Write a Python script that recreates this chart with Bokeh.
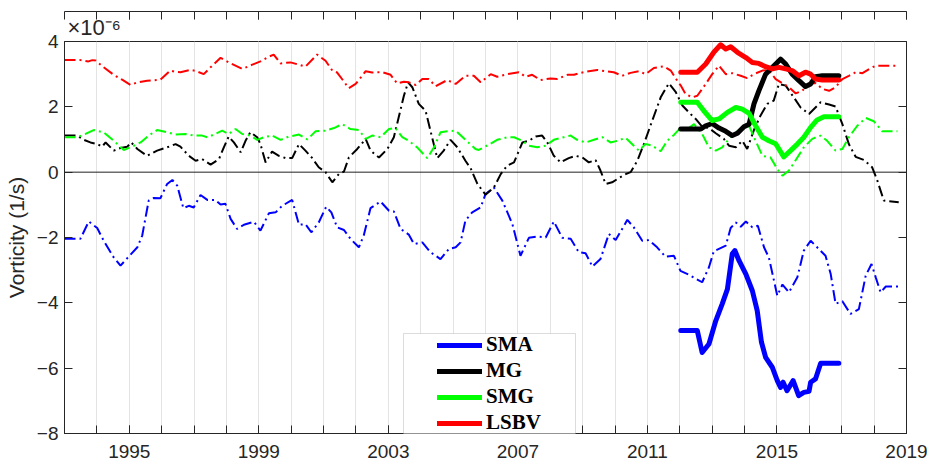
from bokeh.plotting import figure
from bokeh.models import (FixedTicker, LinearAxis, Range1d, Legend, LegendItem,
                          Title, BoxAnnotation, Span, CustomJSTickFormatter)
from bokeh.embed import file_html
from bokeh.resources import INLINE

# Relative vorticity (units of 1e-6 1/s) against decimal year.
# Long-term smoothed series (dash-dot) for each region.
sma_t = [1993.00, 1993.49, 1993.75, 1994.01, 1994.21, 1994.52, 1994.73, 1994.94, 1995.25, 1995.40,
         1995.60, 1995.76, 1995.96, 1996.17, 1996.33, 1996.48, 1996.67, 1996.84, 1996.99, 1997.20,
         1997.41, 1997.66, 1997.82, 1997.97, 1998.13, 1998.33, 1998.54, 1998.85, 1999.05, 1999.31,
         1999.52, 1999.72, 2000.03, 2000.24, 2000.44, 2000.62, 2000.85, 2001.08, 2001.24, 2001.42,
         2001.63, 2001.83, 2002.09, 2002.24, 2002.45, 2002.76, 2003.02, 2003.17, 2003.38, 2003.63,
         2003.79, 2004.05, 2004.30, 2004.61, 2004.87, 2005.08, 2005.23, 2005.38, 2005.59, 2005.85,
         2006.00, 2006.26, 2006.52, 2006.83, 2007.08, 2007.34, 2007.60, 2007.86, 2008.11, 2008.37,
         2008.63, 2008.88, 2009.09, 2009.30, 2009.55, 2009.81, 2010.02, 2010.38, 2010.58, 2010.84,
         2011.05, 2011.30, 2011.56, 2011.82, 2012.02, 2012.28, 2012.69, 2012.90, 2013.05, 2013.42,
         2013.57, 2013.73, 2013.88, 2014.04, 2014.24, 2014.41, 2014.60, 2014.75, 2015.01, 2015.17,
         2015.37, 2015.63, 2015.83, 2016.04, 2016.24, 2016.50, 2016.66, 2016.81, 2017.02, 2017.27,
         2017.53, 2017.74, 2017.92, 2018.05, 2018.20, 2018.36, 2018.77]
sma_v = [-2.04, -2.04, -1.51, -1.71, -2.10, -2.61, -2.86, -2.63, -2.30, -1.94,
         -0.87, -0.79, -0.80, -0.36, -0.24, -0.41, -1.10, -1.03, -1.08, -0.70,
         -0.85, -0.85, -0.99, -0.97, -1.43, -1.74, -1.61, -1.52, -1.79, -1.26,
         -1.23, -1.03, -0.85, -1.61, -1.59, -1.84, -1.54, -1.06, -1.23, -1.69,
         -1.77, -2.04, -2.30, -1.94, -1.10, -0.90, -1.18, -1.20, -1.74, -1.91,
         -2.20, -2.15, -2.45, -2.66, -2.35, -2.30, -2.15, -1.48, -1.23, -1.08,
         -0.67, -0.47, -0.87, -1.59, -2.56, -2.01, -1.97, -2.00, -1.51, -2.01,
         -2.04, -2.45, -2.48, -2.89, -2.66, -1.89, -2.08, -1.46, -1.69, -2.10,
         -2.08, -2.30, -2.59, -2.56, -3.02, -3.14, -3.37, -2.91, -2.42, -2.25,
         -1.71, -1.54, -1.67, -1.51, -1.69, -1.64, -2.30, -2.61, -3.78, -3.44,
         -3.68, -3.22, -2.40, -2.10, -2.30, -2.56, -3.12, -4.03, -3.95, -4.34,
         -4.19, -3.17, -2.81, -3.22, -3.68, -3.50, -3.50]

mg_t = [1993.00, 1993.39, 1993.60, 1993.80, 1994.01, 1994.16, 1994.27, 1994.52, 1994.73, 1994.94,
        1995.06, 1995.25, 1995.55, 1995.86, 1996.17, 1996.43, 1996.58, 1996.84, 1997.05, 1997.25,
        1997.51, 1997.77, 1997.92, 1998.07, 1998.23, 1998.44, 1998.59, 1998.74, 1998.95, 1999.05,
        1999.21, 1999.41, 1999.62, 1999.83, 2000.03, 2000.24, 2000.44, 2000.65, 2000.85, 2001.06,
        2001.27, 2001.47, 2001.63, 2001.78, 2002.04, 2002.30, 2002.45, 2002.71, 2002.97, 2003.17,
        2003.32, 2003.48, 2003.61, 2003.74, 2003.94, 2004.15, 2004.30, 2004.51, 2004.71, 2004.92,
        2005.13, 2005.38, 2005.54, 2005.75, 2006.00, 2006.26, 2006.47, 2006.67, 2006.88, 2007.14,
        2007.34, 2007.55, 2007.75, 2007.91, 2008.11, 2008.32, 2008.57, 2008.78, 2008.99, 2009.19,
        2009.40, 2009.55, 2009.71, 2009.91, 2010.12, 2010.33, 2010.48, 2010.69, 2010.89, 2011.15,
        2011.41, 2011.66, 2011.87, 2012.08, 2012.28, 2012.49, 2012.69, 2012.90, 2013.11, 2013.36,
        2013.52, 2013.73, 2013.93, 2014.08, 2014.29, 2014.49, 2014.70, 2014.90, 2015.06, 2015.27,
        2015.52, 2015.73, 2015.99, 2016.19, 2016.35, 2016.61, 2016.81, 2017.02, 2017.22, 2017.43,
        2017.69, 2017.94, 2018.10, 2018.30, 2018.76]
mg_v = [1.12, 1.12, 0.99, 0.91, 0.86, 0.78, 0.91, 0.66, 0.74, 0.78,
        0.91, 0.71, 0.50, 0.66, 0.76, 0.86, 0.78, 0.50, 0.35, 0.40,
        0.23, 0.40, 0.76, 1.09, 0.91, 0.61, 0.96, 1.22, 1.07, 0.86,
        0.30, 0.63, 0.50, 0.43, 0.43, 0.86, 0.66, 0.43, 0.15, 0.00,
        -0.31, -0.06, 0.02, 0.45, 0.71, 1.02, 0.66, 0.45, 0.71, 1.07,
        1.68, 2.34, 2.75, 2.60, 2.09, 1.88, 1.27, 0.43, 0.66, 0.99,
        0.76, 0.35, 0.12, -0.36, -0.69, -0.47, -0.06, 0.20, 0.30, 0.91,
        0.96, 1.09, 1.12, 0.91, 0.50, 0.30, 0.43, 0.50, 0.45, 0.30,
        0.37, 0.05, -0.36, -0.31, -0.18, -0.06, 0.00, 0.35, 0.86, 1.58,
        2.29, 2.72, 2.46, 2.04, 1.83, 1.63, 1.39, 1.35, 1.19, 1.02,
        0.81, 0.76, 0.96, 0.71, 1.29, 1.73, 2.09, 2.19, 2.70, 2.65,
        2.29, 1.98, 1.78, 1.98, 2.14, 2.07, 2.01, 1.47, 0.86, 0.47,
        0.37, 0.15, -0.26, -0.87, -0.92]

smg_t = [1993.00, 1993.39, 1993.65, 1993.90, 1994.21, 1994.52, 1994.83, 1995.09, 1995.35, 1995.60,
         1995.86, 1996.17, 1996.43, 1996.74, 1996.99, 1997.25, 1997.41, 1997.61, 1997.87, 1998.07,
         1998.28, 1998.49, 1998.74, 1998.95, 1999.16, 1999.41, 1999.67, 1999.93, 2000.24, 2000.50,
         2000.75, 2001.06, 2001.32, 2001.58, 2001.83, 2002.09, 2002.30, 2002.50, 2002.76, 2003.02,
         2003.22, 2003.43, 2003.63, 2003.89, 2004.20, 2004.41, 2004.61, 2004.82, 2005.08, 2005.38,
         2005.69, 2005.79, 2006.10, 2006.36, 2006.67, 2006.88, 2007.14, 2007.34, 2007.60, 2007.86,
         2008.11, 2008.42, 2008.63, 2008.83, 2009.09, 2009.35, 2009.61, 2009.86, 2010.07, 2010.33,
         2010.58, 2010.74, 2010.94, 2011.15, 2011.41, 2011.61, 2011.82, 2012.03, 2012.18, 2012.44,
         2012.69, 2012.90, 2013.11, 2013.31, 2013.52, 2013.73, 2013.93, 2014.14, 2014.34, 2014.55,
         2014.80, 2015.01, 2015.17, 2015.37, 2015.63, 2015.83, 2016.09, 2016.35, 2016.55, 2016.81,
         2017.02, 2017.22, 2017.48, 2017.74, 2017.99, 2018.25, 2018.72]
smg_v = [1.07, 1.07, 1.17, 1.29, 1.22, 0.96, 0.68, 0.78, 0.91, 1.12,
         1.29, 1.22, 1.15, 1.17, 1.12, 1.12, 1.07, 1.15, 1.27, 1.17,
         1.32, 1.17, 1.12, 0.99, 1.07, 1.12, 0.99, 1.09, 1.15, 1.00,
         1.25, 1.27, 1.35, 1.47, 1.32, 1.29, 1.02, 1.12, 1.07, 1.32,
         1.35, 1.07, 0.96, 0.76, 0.43, 0.76, 1.22, 1.25, 1.27, 0.99,
         0.71, 0.68, 0.84, 0.99, 1.07, 1.07, 0.96, 0.81, 0.76, 0.81,
         0.99, 1.07, 1.12, 0.99, 0.91, 0.99, 1.07, 0.91, 0.96, 1.05,
         0.81, 0.66, 0.86, 0.81, 0.64, 0.96, 1.14, 1.37, 1.27, 1.47,
         1.17, 0.76, 0.66, 0.76, 1.02, 1.22, 1.35, 1.42, 0.96, 0.50,
         0.45, 0.10, -0.11, 0.05, 0.45, 0.76, 1.02, 1.12, 0.96, 0.66,
         0.71, 1.07, 1.42, 1.66, 1.56, 1.25, 1.25]

lsbv_t = [1993.00, 1993.49, 1993.74, 1993.86, 1993.96, 1994.21, 1994.52, 1994.78, 1995.04, 1995.25,
          1995.55, 1995.96, 1996.27, 1996.43, 1996.58, 1996.89, 1997.05, 1997.30, 1997.51, 1997.82,
          1998.13, 1998.49, 1998.80, 1999.05, 1999.30, 1999.46, 1999.67, 1999.98, 2000.24, 2000.44,
          2000.80, 2001.06, 2001.27, 2001.42, 2001.78, 2001.99, 2002.19, 2002.30, 2002.50, 2002.81,
          2003.07, 2003.27, 2003.48, 2003.63, 2003.84, 2004.05, 2004.25, 2004.46, 2004.82, 2005.08,
          2005.38, 2005.64, 2005.85, 2006.16, 2006.36, 2006.67, 2007.03, 2007.24, 2007.44, 2007.70,
          2008.01, 2008.22, 2008.53, 2008.73, 2008.94, 2009.19, 2009.45, 2009.71, 2009.96, 2010.22,
          2010.48, 2010.74, 2010.94, 2011.20, 2011.51, 2011.72, 2011.92, 2012.03, 2012.18, 2012.39,
          2012.54, 2012.80, 2013.00, 2013.21, 2013.42, 2013.62, 2013.88, 2014.08, 2014.29, 2014.55,
          2014.75, 2014.96, 2015.17, 2015.37, 2015.58, 2015.78, 2015.99, 2016.19, 2016.40, 2016.61,
          2016.81, 2017.02, 2017.22, 2017.43, 2017.64, 2017.85, 2018.05, 2018.36, 2018.72]
lsbv_v = [3.43, 3.43, 3.39, 3.43, 3.42, 3.21, 2.98, 2.83, 2.67, 2.75,
          2.80, 2.83, 3.11, 3.07, 3.06, 3.13, 3.10, 3.00, 3.21, 3.50,
          3.33, 3.16, 3.29, 3.39, 3.53, 3.60, 3.33, 3.36, 3.29, 3.23,
          3.60, 3.41, 3.11, 3.05, 2.57, 2.70, 2.95, 3.09, 3.05, 3.06,
          2.98, 2.72, 2.77, 2.75, 2.67, 2.85, 2.85, 2.63, 2.82, 2.70,
          2.95, 2.95, 2.75, 3.00, 2.92, 3.00, 3.06, 2.92, 2.98, 2.82,
          2.87, 2.85, 2.98, 2.98, 3.04, 3.09, 3.13, 3.09, 3.06, 2.95,
          3.04, 3.09, 3.00, 3.19, 3.24, 3.11, 2.80, 2.65, 2.39, 2.29,
          2.34, 2.70, 3.00, 3.26, 3.00, 3.03, 2.95, 2.88, 3.00, 3.11,
          3.13, 2.85, 2.72, 2.60, 2.41, 2.49, 2.72, 2.73, 2.55, 2.49,
          2.60, 2.85, 2.95, 3.06, 3.03, 3.16, 3.26, 3.26, 3.26]

# Recent high-resolution series (solid), 2012 onwards.
sma_s_t = [2012.03, 2012.54, 2012.69, 2012.90, 2013.11, 2013.31, 2013.47, 2013.62, 2013.70, 2013.83,
           2014.04, 2014.24, 2014.39, 2014.52, 2014.65, 2014.86, 2015.01, 2015.11, 2015.19, 2015.31,
           2015.50, 2015.67, 2015.83, 2015.99, 2016.04, 2016.19, 2016.35, 2016.91]
sma_s_v = [-4.85, -4.85, -5.52, -5.26, -4.55, -4.03, -3.58, -2.50, -2.40, -2.71,
           -3.12, -3.63, -4.24, -5.20, -5.67, -5.98, -6.38, -6.59, -6.43, -6.69,
           -6.38, -6.84, -6.74, -6.71, -6.43, -6.33, -5.85, -5.85]

mg_s_t = [2012.03, 2012.65, 2012.80, 2013.00, 2013.21, 2013.42, 2013.62, 2013.78, 2013.98, 2014.14,
          2014.29, 2014.44, 2014.65, 2014.86, 2015.01, 2015.11, 2015.27, 2015.47, 2015.68, 2015.88,
          2016.04, 2016.19, 2016.40, 2016.91]
mg_s_v = [1.32, 1.32, 1.42, 1.49, 1.35, 1.25, 1.12, 1.19, 1.39, 1.47,
          2.09, 2.49, 3.00, 3.21, 3.36, 3.46, 3.31, 3.00, 2.80, 2.62,
          2.70, 2.92, 2.95, 2.95]

smg_s_t = [2012.03, 2012.54, 2012.74, 2013.00, 2013.21, 2013.47, 2013.73, 2013.93, 2014.14, 2014.34,
           2014.55, 2014.75, 2014.96, 2015.21, 2015.42, 2015.63, 2015.83, 2016.04, 2016.24, 2016.45,
           2016.91]
smg_s_v = [2.14, 2.14, 1.88, 1.58, 1.63, 1.83, 1.98, 1.93, 1.80, 1.42,
           1.07, 0.96, 0.87, 0.47, 0.66, 0.86, 1.07, 1.37, 1.60, 1.70,
           1.70]

lsbv_s_t = [2012.03, 2012.54, 2012.80, 2013.05, 2013.26, 2013.42, 2013.57, 2013.78, 2014.04, 2014.24,
            2014.44, 2014.65, 2014.86, 2015.06, 2015.27, 2015.47, 2015.68, 2015.88, 2016.04, 2016.19,
            2016.40, 2016.91]
lsbv_s_v = [3.06, 3.06, 3.31, 3.67, 3.90, 3.77, 3.84, 3.67, 3.51, 3.36,
            3.33, 3.23, 3.16, 3.21, 3.16, 3.11, 2.95, 3.06, 3.00, 2.85,
            2.82, 2.82]

names = ["SMA", "MG", "SMG", "LSBV"]
colors = ["#0000ff", "#000000", "#00ff00", "#ff0000"]

year_labels = list(range(1995, 2020, 4))
all_years = list(range(1993, 2020))
y_ticks = [-8, -6, -4, -2, 0, 2, 4]

AX = "#262626"
TICK_FONT = "Liberation Sans"

p = figure(width=932, height=461, output_backend="svg", toolbar_location=None,
           x_range=Range1d(1993, 2019), y_range=Range1d(-8, 4),
           min_border_left=64, min_border_right=26, min_border_top=41, min_border_bottom=28,
           background_fill_color="white", border_fill_color="white")
p.outline_line_color = AX
p.outline_line_width = 1

x_ticker = FixedTicker(ticks=year_labels, minor_ticks=all_years)
y_ticker = FixedTicker(ticks=y_ticks)
blank = CustomJSTickFormatter(code="return '';")


def style_axis(ax):
    ax.axis_line_color = AX
    ax.major_tick_line_color = AX
    ax.minor_tick_line_color = AX
    ax.major_tick_in = 8
    ax.major_tick_out = 0
    ax.minor_tick_in = 8
    ax.minor_tick_out = 0
    ax.major_label_text_color = AX
    ax.major_label_text_font = TICK_FONT
    ax.major_label_text_font_size = "19px"


xa = p.xaxis[0]
xa.ticker = x_ticker
style_axis(xa)
xa.major_label_standoff = 11

ya = p.yaxis[0]
ya.ticker = y_ticker
style_axis(ya)
ya.minor_tick_line_color = None
ya.major_label_standoff = 6
ya.axis_label = "Vorticity (1/s)"
ya.axis_label_text_font = TICK_FONT
ya.axis_label_text_font_size = "21px"
ya.axis_label_text_font_style = "normal"
ya.axis_label_text_color = AX
ya.axis_label_standoff = 6

# scientific exponent of the y values, above the top-left corner
p.add_layout(Title(text="×10⁻⁶", align="left", offset=3, standoff=3,
                   text_font=TICK_FONT, text_font_size="22px",
                   text_font_style="normal", text_color=AX), "above")

# mirrored box axes with ticks only
top = LinearAxis(ticker=x_ticker, formatter=blank)
style_axis(top)
top.major_label_standoff = 0
p.add_layout(top, "above")

right = LinearAxis(ticker=y_ticker, formatter=blank)
style_axis(right)
right.minor_tick_line_color = None
right.major_label_standoff = 0
p.add_layout(right, "right")

p.xgrid.ticker = x_ticker
p.xgrid.grid_line_color = "#e3e3e3"
p.xgrid.minor_grid_line_color = "#e3e3e3"
p.ygrid.grid_line_color = None

p.add_layout(Span(location=0, dimension="width", line_color="#202020",
                  line_width=1, level="underlay"))

dashed = [(sma_t, sma_v), (mg_t, mg_v), (smg_t, smg_v), (lsbv_t, lsbv_v)]
solid = [(sma_s_t, sma_s_v), (mg_s_t, mg_s_v), (smg_s_t, smg_s_v), (lsbv_s_t, lsbv_s_v)]

for (t, v), c in zip(dashed, colors):
    p.line(t, v, line_color=c, line_width=2, line_dash="11 4 2 4")

solid_renderers = []
for (t, v), c in zip(solid, colors):
    r = p.line(t, v, line_color=c, line_width=5, line_join="round", line_cap="round")
    solid_renderers.append(r)

# legend frame
p.add_layout(BoxAnnotation(left=403, right=575, top=333, bottom=436,
                           left_units="canvas", right_units="canvas",
                           top_units="canvas", bottom_units="canvas",
                           fill_color="white", fill_alpha=1.0,
                           line_color="#8a8a8a", line_width=1))

legend = Legend(items=[LegendItem(label=n, renderers=[r]) for n, r in zip(names, solid_renderers)],
                location=(371, -4), orientation="vertical",
                label_text_font="Liberation Serif", label_text_font_style="bold",
                label_text_font_size="21px", label_text_color="#000000",
                glyph_width=45, glyph_height=24, label_height=24, spacing=1,
                padding=2, label_standoff=4, margin=0,
                border_line_alpha=0, background_fill_alpha=0)
p.add_layout(legend, "center")

open("out.html", "w").write(file_html(p, INLINE))
